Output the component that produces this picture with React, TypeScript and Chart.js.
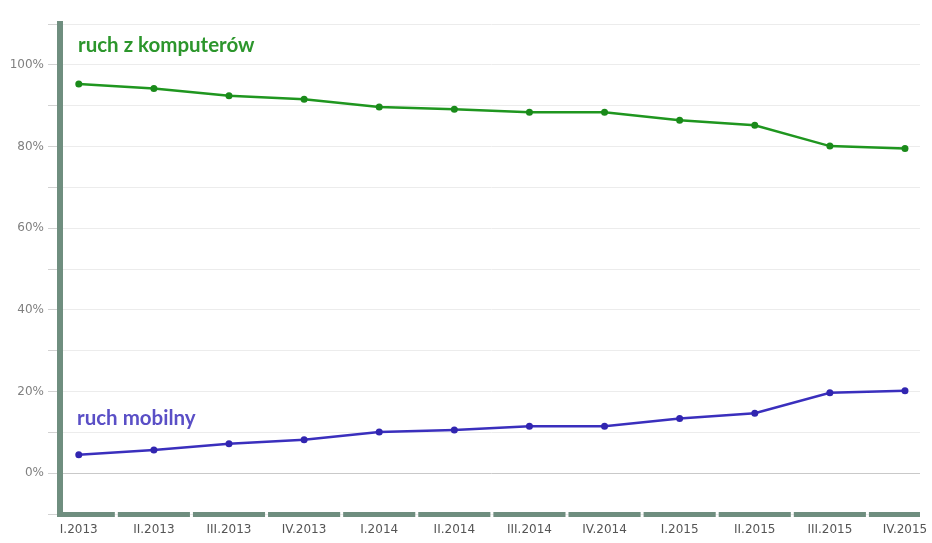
import { useEffect, useRef } from "react";
import { Chart, registerables } from "chart.js";

Chart.register(...registerables);

const categories = [
  "I.2013", "II.2013", "III.2013", "IV.2013",
  "I.2014", "II.2014", "III.2014", "IV.2014",
  "I.2015", "II.2015", "III.2015", "IV.2015",
];
const desktopShare = [95.3, 94.2, 92.4, 91.6, 89.7, 89.1, 88.4, 88.4, 86.4, 85.2, 80.1, 79.5];
const mobileShare = [4.5, 5.7, 7.2, 8.2, 10.1, 10.6, 11.5, 11.5, 13.4, 14.7, 19.7, 20.2];
const seriesNames = ["ruch z komputerów", "ruch mobilny"];
const yLabeledTicks = [0, 20, 40, 60, 80, 100];

const GREEN = "#1f961f";
const BLUE = "#3a2fbd";
const AXIS = "#6f8e7f";

const decorPlugin = {
  id: "decor",
  afterDraw(chart: any) {
    const { ctx, chartArea, scales } = chart;
    const x = scales.x;
    const y = scales.y;
    ctx.save();
    // bottom segmented axis bar
    ctx.fillStyle = AXIS;
    for (let i = 0; i < categories.length; i++) {
      let l = x.getPixelForValue(i - 0.5);
      let r = x.getPixelForValue(i + 0.5);
      l = Math.max(l, chartArea.left - 3);
      r = Math.min(r, chartArea.right);
      const gapL = i === 0 ? 0 : 1.5;
      const gapR = i === categories.length - 1 ? 0 : 1.5;
      ctx.fillRect(l + gapL, chartArea.bottom - 2, r - l - gapL - gapR, 5);
    }
    // series labels
    ctx.font = "bold 20.5px Lato, 'Open Sans', sans-serif";
    ctx.textBaseline = "alphabetic";
    ctx.textAlign = "left";
    ctx.fillStyle = "#2c962c";
    ctx.fillText(seriesNames[0], chartArea.left + 18, y.getPixelForValue(103.2));
    ctx.fillStyle = "#5a4fc6";
    ctx.fillText(seriesNames[1], chartArea.left + 17, y.getPixelForValue(11.9));
    ctx.restore();
  },
};

export default function App() {
  const ref = useRef<HTMLCanvasElement>(null);
  useEffect(() => {
    if (!ref.current) return;
    const chart = new Chart(ref.current, {
      type: "line",
      data: {
        datasets: [
          {
            label: seriesNames[0],
            data: desktopShare.map((v, i) => ({ x: i, y: v })),
            borderColor: GREEN,
            backgroundColor: GREEN,
            borderWidth: 2.5,
            pointRadius: 3.5,
            pointBackgroundColor: "#1a8a1a",
            pointBorderWidth: 0,
            tension: 0,
          },
          {
            label: seriesNames[1],
            data: mobileShare.map((v, i) => ({ x: i, y: v })),
            borderColor: BLUE,
            backgroundColor: BLUE,
            borderWidth: 2.5,
            pointRadius: 3.5,
            pointBackgroundColor: "#3125b0",
            pointBorderWidth: 0,
            tension: 0,
          },
        ],
      },
      options: {
        animation: false,
        responsive: false,
        layout: { padding: { top: 24, right: 12, left: 0, bottom: 0 } },
        plugins: { legend: { display: false }, tooltip: { enabled: false } },
        scales: {
          x: {
            type: "linear",
            min: -0.25,
            max: 11.2,
            afterBuildTicks: (s: any) => {
              s.ticks = categories.map((_, i) => ({ value: i }));
            },
            afterFit: (s: any) => {
              s.height = 29;
              s.paddingLeft = 0;
              s.paddingRight = 0;
            },
            grid: { display: false, drawTicks: false },
            border: { display: false },
            ticks: {
              autoSkip: false,
              maxRotation: 0,
              padding: 9,
              color: "#555",
              font: { family: "'DejaVu Sans', Verdana, sans-serif", size: 12 },
              callback: (v: any) => categories[Math.round(Number(v))] ?? "",
            },
          },
          y: {
            min: -10,
            max: 110,
            afterFit: (s: any) => {
              s.width = 60;
            },
            ticks: {
              stepSize: 10,
              padding: 4,
              color: "#808080",
              font: { family: "'DejaVu Sans', Verdana, sans-serif", size: 12 },
              callback: (v: any) => (yLabeledTicks.includes(Number(v)) ? v + "%" : ""),
            },
            grid: {
              color: (c: any) => (c.tick && c.tick.value === 0 ? "#c9c9c9" : "#ececec"),
              tickColor: "#d2d2d2",
              tickLength: 12,
              lineWidth: 1,
            },
            border: { color: AXIS, width: 6 },
          },
        },
      },
      plugins: [decorPlugin],
    });
    return () => chart.destroy();
  }, []);
  return (
    <div style={{ position: "absolute", left: 0, top: 0, width: 932, height: 543, background: "#fff" }}>
      <canvas ref={ref} width={932} height={543} style={{ display: "block" }} />
    </div>
  );
}
